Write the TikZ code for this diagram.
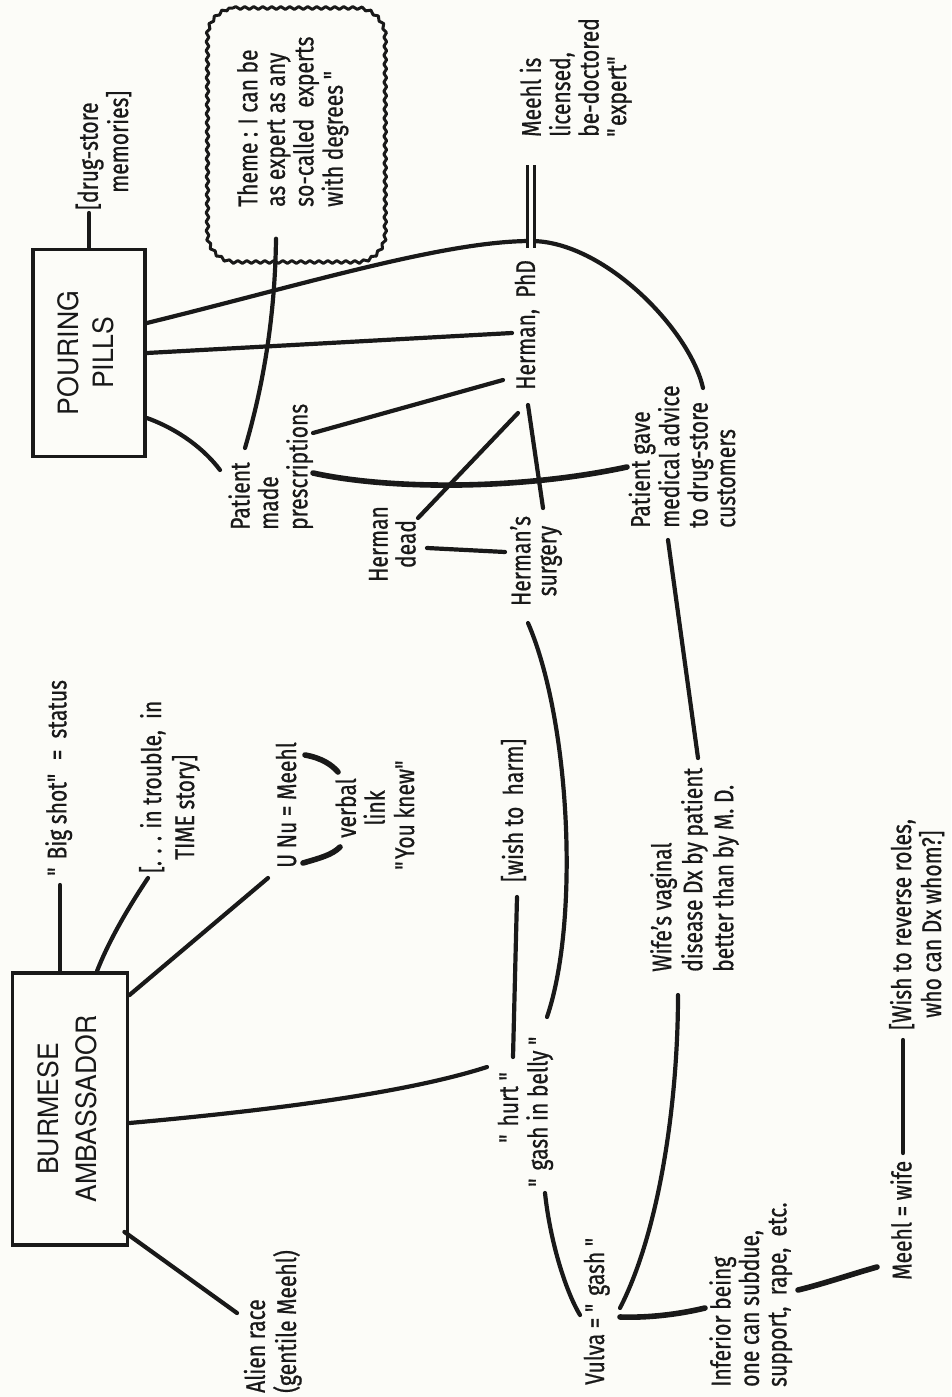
\documentclass[tikz,border=0pt]{standalone}
\usepackage{fontspec}
\usepackage{graphicx}
\setmainfont{Fira Sans}[FakeStretch=0.78, FakeBold=0.7]
\newfontfamily\boxfont{TeX Gyre Heros}[FakeStretch=0.95]
\usetikzlibrary{decorations.pathmorphing,calc}
\newcommand\dq{\textquotedbl}
\newcommand\vt[2][l]{\rotatebox{90}{\begin{tabular}{@{}#1@{}}#2\end{tabular}}}
\definecolor{ink}{RGB}{25,25,25}
\definecolor{paper}{RGB}{252,252,248}
\begin{document}
\begin{tikzpicture}[x=1pt,y=-1pt,
  lbl/.style={inner sep=3pt, text=ink, font=\fontsize{27}{27.5}\selectfont},
  conn/.style={draw=ink, line width=4.2pt, line cap=round},
  heavy/.style={conn, line width=5.6pt},
  bigbox/.style={draw=ink, line width=3.8pt, inner sep=0pt, text=ink},
  cloudline/.style={draw=ink, line width=3pt, line join=round, decorate,
     decoration={snake, amplitude=1.4pt, segment length=9pt}},
  dbl/.style={draw=ink, line width=3pt, double=paper, double distance=4pt},
]
\useasboundingbox (0,0) rectangle (951,1397);
\fill[paper] (0,0) rectangle (951,1397);

% boxes
\node[bigbox, minimum width=112pt, minimum height=207pt,
  font=\boxfont\fontsize{28}{35}\selectfont] (pp) at (89,353)
  {\rotatebox{90}{\begin{tabular}{@{}c@{}}POURING\\PILLS\end{tabular}}};
\node[bigbox, minimum width=115pt, minimum height=272pt,
  font=\boxfont\fontsize{28}{38}\selectfont] (ba) at (70,1109)
  {\rotatebox{90}{\begin{tabular}{@{}c@{}}BURMESE\\AMBASSADOR\end{tabular}}};
\node[minimum width=178pt, minimum height=255pt, inner sep=0pt] (cloud) at (294,135) {};
\draw[cloudline] (233,8) -- (355,8) .. controls (370,8) and (383,21) .. (383,36)
  -- (383,234) .. controls (383,249) and (370,262) .. (355,262)
  -- (233,262) .. controls (218,262) and (205,249) .. (205,234)
  -- (205,36) .. controls (205,21) and (218,8) .. (233,8) -- cycle;

% labels
\node[lbl, anchor=south] (dsm) at (106,213) {\vt{[drug-store\\\hspace*{17pt}memories]}};
\node[lbl, anchor=south] (theme) at (294,210) {\vt{Theme : I can be\\as expert as any\\so-called \ experts\\with degrees \dq}};
\node[lbl, anchor=south] (mlic) at (577,140) {\vt{Meehl is\\licensed,\\be-doctored\\\dq expert\dq}};
\node[lbl, anchor=south] (hp) at (529,393) {\vt{Herman, \ PhD}};
\node[lbl, anchor=south] (pmp) at (272,533) {\vt{Patient\\made\\prescriptions}};
\node[lbl, font=\fontsize{27}{25.5}\selectfont] (hd) at (396,544) {\vt[c]{Herman\\dead}};
\node[lbl, font=\fontsize{27}{26}\selectfont] (hs) at (537,561) {\vt[c]{Herman's\\surgery}};
\node[lbl, anchor=south] (pgm) at (686,531) {\vt{Patient gave\\medical advice\\to drug-store\\customers}};
\node[lbl, anchor=south] (wth) at (516,885) {\vt{[wish to \ harm]}};
\node[lbl, anchor=south] (hurt) at (512,1146) {\vt{\dq\ hurt \dq}};
\node[lbl, anchor=south] (gib) at (541,1190) {\vt{\dq\ gash in belly \dq}};
\node[lbl, anchor=south, font=\fontsize{27}{31}\selectfont] (wvd) at (696,975) {\vt{Wife's vaginal\\disease Dx by patient\\better than by M. D.}};
\node[lbl, anchor=south] (vulva) at (598,1388) {\vt{Vulva = \dq\ gash \dq}};
\node[lbl, anchor=south] (inf) at (752,1390) {\vt{Inferior being\\one can subdue,\\support, \ rape, \ etc.}};
\node[lbl, anchor=south] (mw) at (905,1283) {\vt{Meehl = wife}};
\node[lbl, anchor=south, inner sep=0pt, font=\fontsize{27}{26.5}\selectfont] (wrr) at (919,1030) {\vt{[Wish to reverse roles,\\\hspace*{12pt}who can Dx whom?]}};
\node[lbl, anchor=south] (bs) at (60,879) {\vt{\dq\ Big shot\dq \ \ = \ status}};
\node[lbl, anchor=south, font=\fontsize{27}{33}\selectfont] (trouble) at (171,876) {\vt{[. . . in trouble, \ in\\\hspace*{13pt}TIME story]}};
\node[lbl, anchor=south] (unu) at (290,871) {\vt{U Nu = Meehl}};
\node[lbl, font=\fontsize{27}{26}\selectfont] (vl) at (364,808) {\vt[c]{verbal\\link}};
\node[lbl, anchor=south] (yk) at (408,873) {\vt{\dq You knew\dq}};
\node[lbl, anchor=south] (alien) at (274,1396) {\vt{Alien race\\(gentile Meehl)}};

\coordinate (J) at (531,241);

% connectors: POURING PILLS
\draw[conn] (pp.north) -- (pp.north |- dsm.south);
\draw[conn] ([shift={(0,-30)}]pp.east) .. controls +(155,-38) and +(-87,0) .. (J)
  .. controls +(73,0) and +(-13,-58) .. ([shift={(17,-143)}]pgm.south);
\draw[conn] (pp.east) -- ([shift={(-17,-60)}]hp.south);
\draw[conn] ([shift={(0,65)}]pp.east) .. controls +(33,12) and +(-15,-20) .. ([shift={(-52,-63)}]pmp.south);
\draw[conn] ([shift={(-18,-24)}]cloud.south) .. controls +(-1,82) and +(17,-58) .. ([shift={(-27,-85)}]pmp.south);
\draw[dbl] ([shift={(0,7)}]J) -- (J |- mlic.south) [shorten >=25pt];

% middle cluster
\draw[conn] ([shift={(41,-100)}]pmp.south) -- ([shift={(-26,-13)}]hp.south);
\draw[heavy] ([shift={(41,-60)}]pmp.south) .. controls +(77,17) and +(-107,23) .. ([shift={(-59,-64)}]pgm.south);
\draw[conn] ([shift={(22,-26)}]hd.center) -- ([shift={(-11,20)}]hp.south);
\draw[conn] ([shift={(31,4)}]hd.center) -- ([shift={(-32,-9)}]hs.center);
\draw[conn] ([shift={(-1,12)}]hp.south) -- ([shift={(6,-53)}]hs.center);
\draw[conn] ([shift={(-9,62)}]hs.center) .. controls +(42,97) and +(33,-97) .. ([shift={(6,-173)}]gib.south);
\draw[conn] ([shift={(-18,9)}]pgm.south) -- ([shift={(2,-217)}]wvd.south);

% lower right
\draw[conn] ([shift={(1,12)}]wth.south) -- ([shift={(1,-89)}]hurt.south);
\draw[conn] ([shift={(4,3)}]gib.south) .. controls +(5,47) and +(-15,-25) .. ([shift={(-18,-73)}]vulva.south);
\draw[conn] ([shift={(22,-80)}]vulva.south) .. controls +(40,-78) and +(0,105) .. ([shift={(-18,20)}]wvd.south);
\draw[heavy] ([shift={(22,-71)}]vulva.south) .. controls +(30,1) and +(-25,6) .. ([shift={(-47,-82)}]inf.south);
\draw[heavy] ([shift={(46,-100)}]inf.south) .. controls +(25,-6) and +(-25,7) .. ([shift={(-28,-16)}]mw.south);
\draw[conn] ([shift={(-2,-130)}]mw.south) -- ($(mw.south |- wrr.south)+(-2,10)$);

% BURMESE AMBASSADOR
\draw[conn] (bs.south |- ba.north) -- (bs.south) [shorten >=6pt];
\draw[conn] ([shift={(27,0)}]ba.north) .. controls +(13,-33) and +(-18,27) .. ([shift={(-23,2)}]trouble.south);
\draw[conn] ([shift={(0,24)}]ba.north east) -- ([shift={(-22,7)}]unu.south);
\draw[conn] ([shift={(0,14)}]ba.east) .. controls +(123,-11) and +(-87,28) .. ([shift={(-25,-79)}]hurt.south);
\draw[conn] ([shift={(-5,-15)}]ba.south east) -- ([shift={(-37,-83)}]alien.south);
\draw[heavy] ([shift={(-59,-53)}]vl.center) .. controls +(17,3) and +(-6,-7) .. ([shift={(-26,-36)}]vl.center);
\draw[heavy] ([shift={(-61,55)}]vl.center) .. controls +(17,-5) and +(-8,8) .. ([shift={(-24,39)}]vl.center);
\end{tikzpicture}
\end{document}
